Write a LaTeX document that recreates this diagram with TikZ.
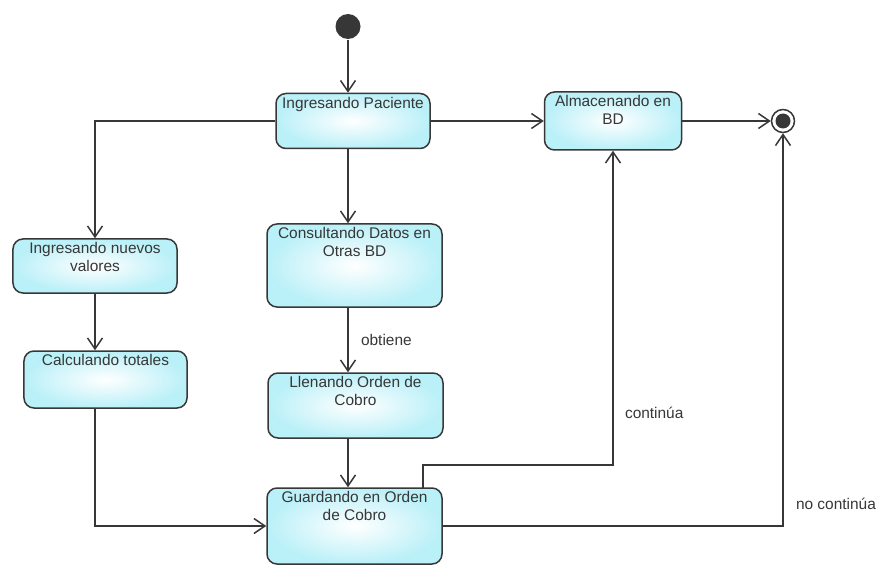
\documentclass[tikz,border=0pt]{standalone}
\usepackage{fontspec}
\setmainfont{Liberation Sans}
\usetikzlibrary{arrows.meta}
\definecolor{vpcyan}{RGB}{186,240,248}
\definecolor{vpline}{RGB}{55,55,55}

\begin{document}
\begin{tikzpicture}[x=1bp, y=-1bp, color=vpline, line width=1.5bp,
    font=\fontsize{15.5}{18}\selectfont,
    >={Straight Barb[length=11pt, width=15pt]}]
            \useasboundingbox (0,0) rectangle (894,568);
            {
                \tikzset{estado/.style = {rectangle, rounded corners=10pt, draw, line width=1.5bp,
                    shading=radial, inner color=white, outer color=vpcyan, inner sep=0pt}}
                \tikzset{rotulo/.style = {anchor=north, align=center, inner sep=3.5pt}}

                \node[circle, fill, minimum size=25bp, inner sep=0pt] (inicio) at (348, 26.5) {};
                \node[estado, minimum width=154bp, minimum height=55bp,
                    label={[rotulo]north:Ingresando Paciente}] (paciente) at (353, 121) {};
                \node[estado, minimum width=137bp, minimum height=58bp,
                    label={[rotulo]north:Almacenando en\\BD}] (almacen) at (613, 121) {};
                \node[circle, draw, fill=white, minimum size=23bp, inner sep=0pt] (fin) at (783, 121) {};
                \node[circle, fill, minimum size=15bp, inner sep=0pt] (finpunto) at (fin) {};
                \node[estado, minimum width=164bp, minimum height=54bp,
                    label={[rotulo]north:Ingresando nuevos\\valores}] (nuevos) at (95, 266) {};
                \node[estado, minimum width=163bp, minimum height=57bp,
                    label={[rotulo]north:Calculando totales}] (totales) at (105.5, 379.5) {};
                \node[estado, minimum width=175bp, minimum height=83bp,
                    label={[rotulo]north:Consultando Datos en\\Otras BD}] (consulta) at (354.5, 265.5) {};
                \node[estado, minimum width=175bp, minimum height=65bp,
                    label={[rotulo]north:Llenando Orden de\\Cobro}] (llenado) at (355.5, 405.5) {};
                \node[estado, minimum width=175bp, minimum height=76bp,
                    label={[rotulo]north:Guardando en Orden\\de Cobro}] (guardado) at (354.5, 526) {};
            }

            \draw[->] (inicio) -- (paciente.north -| inicio);
            \draw (paciente) edge[->] (almacen);
            \draw (almacen) edge[->] (fin);
            \draw[->] (paciente.west) -| (nuevos.north);
            \draw[->] (paciente.south -| inicio) -- (consulta.north -| inicio);

            \draw[->] (nuevos.south) -- (nuevos.south |- totales.north);
            \draw[->] (consulta.south -| inicio) -- node[right=9pt, midway] {obtiene} (llenado.north -| inicio);
            \draw[->] (llenado.south -| inicio) -- (guardado.north -| inicio);
            \draw[->] (totales.south -| nuevos.south) |- (guardado.west);

            % salidas de guardado
            \coordinate (salida) at (423, 488);
            \coordinate (codo) at (613, 465);
            \draw[->] (salida) |- (codo) -- node[right=8pt, pos=0.165] {continúa} (almacen.south);
            \draw[->] (guardado.east) -| node[right=9pt, pos=0.528] {no continúa} (fin.south);

        \end{tikzpicture}
\end{document}
